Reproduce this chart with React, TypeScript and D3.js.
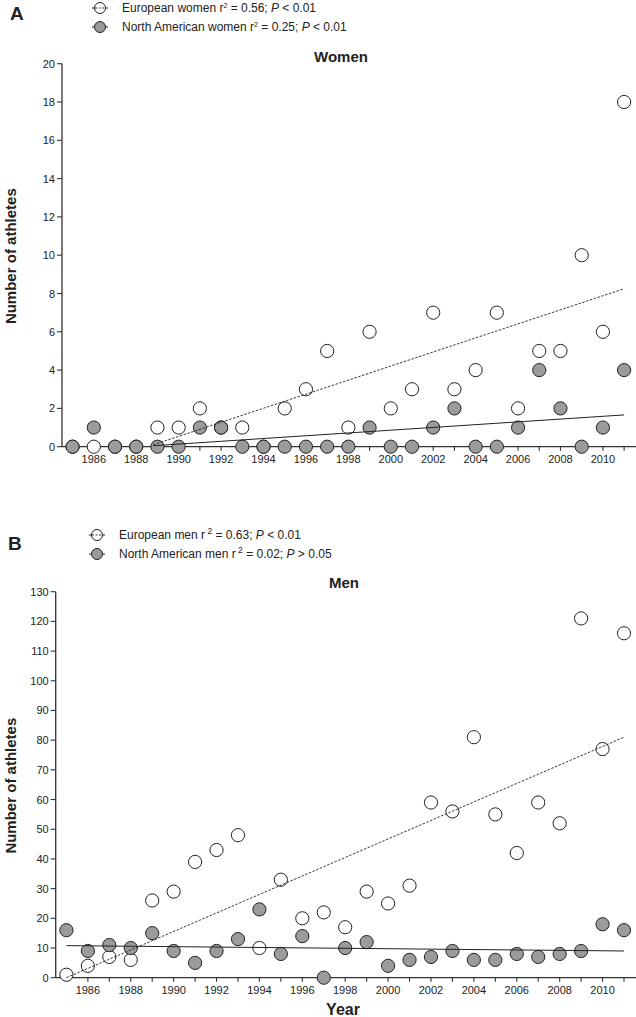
import React from "react";
import * as d3 from "d3";

const years = d3.range(1985, 2012);
// Women
const euWomen = [0, 0, 0, 0, 1, 1, 2, 1, 1, 0, 2, 3, 5, 1, 6, 2, 3, 7, 3, 4, 7, 2, 5, 5, 10, 6, 18];
const naWomen = [0, 1, 0, 0, 0, 0, 1, 1, 0, 0, 0, 0, 0, 0, 1, 0, 0, 1, 2, 0, 0, 1, 4, 2, 0, 1, 4];
// Men
const euMen = [1, 4, 7, 6, 26, 29, 39, 43, 48, 10, 33, 20, 22, 17, 29, 25, 31, 59, 56, 81, 55, 42, 59, 52, 121, 77, 116];
const naMen = [16, 9, 11, 10, 15, 9, 5, 9, 13, 23, 8, 14, 0, 10, 12, 4, 6, 7, 9, 6, 6, 8, 7, 8, 9, 18, 16];

// trend line endpoints [year, value]
const euWomenTrend: [number, number][] = [[1988.8, 0.1], [2011, 8.25]];
const naWomenTrend: [number, number][] = [[1988.8, 0.05], [2011, 1.66]];
const euMenTrend: [number, number][] = [[1985, 0], [2011, 81]];
const naMenTrend: [number, number][] = [[1985, 10.8], [2011, 9.0]];

const womenTicks = d3.range(0, 21, 2);
const menTicks = d3.range(0, 131, 10);
const xLabelYears = d3.range(1986, 2011, 2);

const FONT = "Liberation Sans, Arial, sans-serif";
const GRAY = "#9b9b9b";
const INK = "#222";

type PanelProps = {
  eu: number[];
  na: number[];
  euTrend: [number, number][];
  naTrend: [number, number][];
  yTicks: number[];
  yMax: number;
  x0: number;
  yTop: number;
  yBottom: number;
  title: string;
  titleX: number;
  titleY: number;
  showYear: boolean;
};

function Panel(p: PanelProps) {
  const x = d3.scaleLinear().domain([1984.5, 2011.56]).range([p.x0, 636]);
  const y = d3.scaleLinear().domain([0, p.yMax]).range([p.yBottom, p.yTop]);
  const line = d3
    .line<[number, number]>()
    .x((d) => x(d[0]))
    .y((d) => y(d[1]));
  const r = 6.6;
  return (
    <g>
      <text x={p.titleX} y={p.titleY} fontFamily={FONT} fontWeight="bold" fontSize={15} fill={INK}>
        {p.title}
      </text>
      {/* y axis */}
      <line x1={p.x0} x2={p.x0} y1={y(p.yMax)} y2={y(0)} stroke="#333" strokeWidth={1.3} />
      {p.yTicks.map((t) => (
        <g key={t}>
          <line x1={p.x0 - 5} x2={p.x0} y1={y(t)} y2={y(t)} stroke="#333" strokeWidth={1.1} />
          <text x={p.x0 - 7} y={y(t) + 4} textAnchor="end" fontFamily={FONT} fontSize={11} fill={INK}>
            {t}
          </text>
        </g>
      ))}
      {/* x axis */}
      <line x1={p.x0} x2={636} y1={y(0)} y2={y(0)} stroke="#333" strokeWidth={1.3} />
      {years.map((yr) => (
        <line key={yr} x1={x(yr)} x2={x(yr)} y1={y(0)} y2={y(0) + 4} stroke="#333" strokeWidth={1.1} />
      ))}
      {xLabelYears.map((yr) => (
        <text key={yr} x={x(yr)} y={y(0) + 16} textAnchor="middle" fontFamily={FONT} fontSize={11} fill={INK}>
          {yr}
        </text>
      ))}
      {/* points */}
      {years.map((yr, i) => (
        <circle key={"e" + yr} cx={x(yr)} cy={y(p.eu[i])} r={r} fill="#fff" stroke={INK} strokeWidth={1} />
      ))}
      {years.map((yr, i) => (
        <circle key={"n" + yr} cx={x(yr)} cy={y(p.na[i])} r={r} fill={GRAY} stroke={INK} strokeWidth={1} />
      ))}
      {/* trends */}
      <path d={line(p.euTrend) || ""} fill="none" stroke={INK} strokeWidth={0.9} strokeDasharray="2.5,1.5" />
      <path d={line(p.naTrend) || ""} fill="none" stroke={INK} strokeWidth={1} />
      {/* y label */}
      <text
        transform={`translate(16,${(p.yTop + p.yBottom) / 2 + 1}) rotate(-90)`}
        textAnchor="middle"
        fontFamily={FONT}
        fontWeight="bold"
        fontSize={15}
        fill={INK}
      >
        Number of athletes
      </text>
      {p.showYear && (
        <text x={343} y={1015} textAnchor="middle" fontFamily={FONT} fontWeight="bold" fontSize={16} fill={INK}>
          Year
        </text>
      )}
    </g>
  );
}

function LegendItem({ x, y, dashed, filled, children }: any) {
  return (
    <g>
      <line x1={x - 8} x2={x + 8} y1={y} y2={y} stroke={INK} strokeWidth={1} />
      <circle cx={x} cy={y} r={5.5} fill={filled ? GRAY : "#fff"} stroke={INK} strokeWidth={1} />
      {dashed && <line x1={x - 5} x2={x + 5} y1={y} y2={y} stroke={INK} strokeWidth={0.9} strokeDasharray="2,1.5" />}
      <text x={x + 22} y={y + 4} fontFamily={FONT} fontSize={12} fill={INK}>
        {children}
      </text>
    </g>
  );
}

export default function App() {
  return (
    <svg width={636} height={1017} style={{ position: "absolute", left: 0, top: 0, background: "#fff" }}>
      <rect width={636} height={1017} fill="#fff" />
      <text x={10} y={20} fontFamily={FONT} fontWeight="bold" fontSize={19} fill={INK}>A</text>
      <LegendItem x={100} y={8} dashed>
        European women r<tspan dy={-4} fontSize={7}>2</tspan><tspan dy={4}> = 0.56; </tspan><tspan fontStyle="italic">P</tspan> &lt; 0.01
      </LegendItem>
      <LegendItem x={100} y={27} filled>
        North American women r<tspan dy={-4} fontSize={7}>2</tspan><tspan dy={4}> = 0.25; </tspan><tspan fontStyle="italic">P</tspan> &lt; 0.01
      </LegendItem>
      <Panel
        eu={euWomen}
        na={naWomen}
        euTrend={euWomenTrend}
        naTrend={naWomenTrend}
        yTicks={womenTicks}
        yMax={20}
        x0={62}
        yTop={63.7}
        yBottom={446.7}
        title="Women"
        titleX={314}
        titleY={62}
        showYear={false}
      />
      <text x={8} y={550} fontFamily={FONT} fontWeight="bold" fontSize={19} fill={INK}>B</text>
      <LegendItem x={97} y={535} dashed>
        European men r<tspan dy={-5} fontSize={8.5}> 2</tspan><tspan dy={5}> = 0.63; </tspan><tspan fontStyle="italic">P</tspan> &lt; 0.01
      </LegendItem>
      <LegendItem x={97} y={554} filled>
        North American men r<tspan dy={-5} fontSize={8.5}> 2</tspan><tspan dy={5}> = 0.02; </tspan><tspan fontStyle="italic">P</tspan> &gt; 0.05
      </LegendItem>
      <Panel
        eu={euMen}
        na={naMen}
        euTrend={euMenTrend}
        naTrend={naMenTrend}
        yTicks={menTicks}
        yMax={130}
        x0={55.7}
        yTop={591.7}
        yBottom={977.7}
        title="Men"
        titleX={329}
        titleY={588}
        showYear={true}
      />
    </svg>
  );
}
